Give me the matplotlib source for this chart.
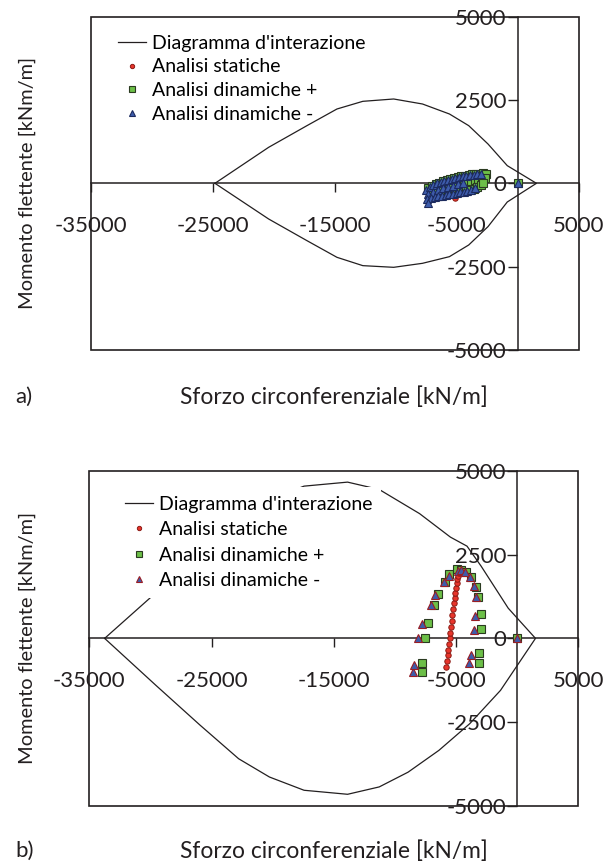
import matplotlib
matplotlib.use("Agg")
import matplotlib.pyplot as plt
from matplotlib.patches import Rectangle

# --- dominio d'interazione, pannello a) ---
dom_a_N = [-24800, -20400, -17260, -14800, -12680, -10150, -7790, -5580, -4000, -2420, -840, 1550,
           -840, -2420, -4000, -5580, -7790, -10150, -12680, -14800, -17260, -20400, -24800]
dom_a_M = [0, 1080, 1730, 2230, 2460, 2530, 2380, 2080, 1730, 1180, 530, 0,
           -560, -1300, -1850, -2200, -2400, -2520, -2470, -2220, -1720, -1070, 0]

# --- dominio d'interazione, pannello b) ---
dom_b_N = [-33740, -29550, -25930, -22780, -20260, -17430, -13870, -11280, -7980, -5460, -4100, -2940, -730, 1500,
           -1360, -3880, -6400, -8920, -11280, -13870, -17430, -20260, -22780, -25930, -29550, -33740]
dom_b_M = [0, 1360, 2590, 3590, 4140, 4540, 4660, 4440, 3720, 3020, 2750, 2150, 900, 0,
           -1550, -2545, -3340, -3990, -4430, -4650, -4530, -4135, -3590, -2590, -1400, 0]

# --- analisi statiche ---
stat_a_N = [-5120, -5050, -4980, -4900, -4820, -4740, -4660]
stat_a_M = [-440, -340, -240, -140, -40, 60, 150]

stat_b_N = [-5850, -5750, -5680, -5620, -5570, -5520, -5470, -5420, -5360, -5300, -5240,
            -5180, -5120, -5060, -5000, -4940, -4880, -4820, -4760, -4700, -4650]
stat_b_M = [-850, -680, -510, -340, -170, 0, 170, 340, 520, 700, 870,
            1040, 1200, 1360, 1500, 1640, 1760, 1870, 1960, 2030, 2080]

# --- analisi dinamiche + ---
dynp_a_N = [-7300, -7000, -6700, -6400, -6100, -5800, -5500, -5200, -4900, -4600, -4300, -4000,
            -3700, -3400, -3100, -2800, -2550,
            -7100, -6800, -6500, -6200, -5900, -5600, -5300, -5000, -4700, -4400, -4100,
            -3800, -3500, -3200, -2900, -2650,
            -7200, -6900, -6600, -6300, -6000, -5700, -5400, -5100, -4800, -4500, -4200,
            -3900, -3600, -3300, -3000, -2800, 0]
dynp_a_M = [-150, -80, -30, 20, 60, 100, 130, 160, 190, 210, 230, 250,
            270, 280, 290, 300, 290,
            -290, -240, -200, -160, -130, -100, -70, -40, -10, 20, 50,
            70, 100, 120, 140, 150,
            -420, -400, -380, -360, -340, -320, -300, -280, -260, -240, -220,
            -190, -160, -110, -60, 10, 0]

dynp_b_N = [-7750, -7750, -7500, -7270, -6770, -6480, -5930, -5540, -4950, -4570, -4160,
            -3750, -3340, -3210, -2930, -2930, -3130, -3130, 0]
dynp_b_M = [-990, -730, 0, 450, 1010, 1320, 1690, 1920, 2060, 2050, 1970,
            1820, 1540, 1240, 730, 280, -430, -720, 0]

# --- analisi dinamiche - ---
dynm_a_N = [-7500, -7200, -6900, -6600, -6300, -6000, -5700, -5400, -5100, -4800, -4500, -4200,
            -3900, -3600, -3300, -3000,
            -7300, -6900, -6500, -6100, -5700, -5300, -4900, -4500,
            -7400, -7100, -6800, -6500, -6200, -5900, -5600, -5300, -5000, -4700, -4400,
            -4100, -3800, -3500, -7300, 0]
dynm_a_M = [-200, -120, -60, 0, 40, 80, 110, 140, 170, 190, 210, 230,
            250, 260, 270, 270,
            -330, -260, -200, -150, -110, -70, -30, 10,
            -480, -440, -410, -390, -370, -350, -330, -310, -290, -270, -250,
            -220, -190, -140, -580, 0]

dynm_b_N = [-8540, -8400, -8070, -7800, -7030, -6680, -6020, -5590, -4850, -4600, -4250,
            -3890, -3570, -3400, -3480, -3570, -3750, -3950, 0]
dynm_b_M = [-1010, -790, 0, 430, 1000, 1290, 1670, 1850, 2000, 2040, 1970,
            1820, 1550, 1220, 680, 260, -500, -730, 0]

x_ticks = [-35000, -25000, -15000, -5000, 5000]
y_ticks = [-5000, -2500, 0, 2500, 5000]

plt.rcParams['font.family'] = ['Lato', 'DejaVu Sans']

INK = '#231f20'
RED = '#e8352b'
GREEN = '#6cbf48'
BLUE = '#3d5cab'


def draw_panel(fig, rect, dom, stat, dynp, dynm, tri_edge, leg_anchor, leg_spacing, leg_pad, leg_bg):
    ax = fig.add_axes(rect)
    ax.set_xlim(-35000, 5000)
    ax.set_ylim(-5000, 5000)

    # assi passanti per l'origine + cornice
    for s in ['top', 'right']:
        ax.spines[s].set_visible(False)
    ax.spines['left'].set_position(('data', 0))
    ax.spines['bottom'].set_position(('data', 0))
    for s in ['left', 'bottom']:
        ax.spines[s].set_linewidth(1.1)
        ax.spines[s].set_color(INK)
    ax.add_patch(Rectangle((0, 0), 1, 1, transform=ax.transAxes, fill=False,
                           lw=1.2, ec=INK, clip_on=False, zorder=5))

    ax.set_xticks(x_ticks)
    ax.set_xticklabels([str(v) for v in x_ticks])
    ax.set_yticks(y_ticks)
    ax.set_yticklabels([str(v) for v in y_ticks])
    ax.tick_params(axis='x', direction='out', length=6.5, width=1.0, pad=17,
                   labelsize=16, colors=INK)
    ax.tick_params(axis='y', direction='out', length=7, width=1.0, pad=1,
                   labelsize=16, colors=INK)

    ax.plot(dom[0], dom[1], color=INK, lw=0.9, label="Diagramma d'interazione", zorder=2)
    ax.plot(stat[0], stat[1], ls='none', marker='o', ms=3.9, mfc=RED, mec='#8a1a14',
            mew=0.7, label='Analisi statiche', zorder=3)
    ax.plot(dynp[0], dynp[1], ls='none', marker='s', ms=5.2, mfc=GREEN, mec='#2a3a20',
            mew=0.8, label='Analisi dinamiche +', zorder=3)
    ax.plot(dynm[0], dynm[1], ls='none', marker='^', ms=5.4, mfc=BLUE, mec=tri_edge,
            mew=0.8, label='Analisi dinamiche -', zorder=4)

    leg = ax.legend(loc='upper left', bbox_to_anchor=leg_anchor, bbox_transform=fig.transFigure,
                    fontsize=14, numpoints=1, markerscale=0.8, handlelength=1.45,
                    handletextpad=0.28, labelspacing=leg_spacing, borderpad=leg_pad,
                    borderaxespad=0, frameon=leg_bg, fancybox=False, framealpha=1)
    leg.get_frame().set_edgecolor('none')
    leg.get_frame().set_facecolor('white')
    leg.set_zorder(6)

    cy = rect[1] + rect[3] / 2
    fig.text(27 / 603, cy, 'Momento flettente [kNm/m]', rotation=90, ha='center', va='center',
             fontsize=14.4, color=INK)
    return ax


fig = plt.figure(figsize=(6.03, 8.68), dpi=100)

draw_panel(fig, [0.1501, 0.5968, 0.8093, 0.384],
           (dom_a_N, dom_a_M), (stat_a_N, stat_a_M), (dynp_a_N, dynp_a_M), (dynm_a_N, dynm_a_M),
           '#1c2a5e', (114 / 603, 1 - 31 / 868), 0.34, 0.2, False)
draw_panel(fig, [0.1480, 0.0714, 0.8110, 0.3863],
           (dom_b_N, dom_b_M), (stat_b_N, stat_b_M), (dynp_b_N, dynp_b_M), (dynm_b_N, dynm_b_M),
           '#9a1d24', (116.5 / 603, 1 - 487 / 868), 0.44, 0.44, True)

for label, ypix in [('a)', 397), ('b)', 851)]:
    fig.text(15 / 603, 1 - ypix / 868, label, fontsize=16, va='center', color=INK)
    fig.text(334 / 603, 1 - ypix / 868, 'Sforzo circonferenziale [kN/m]', fontsize=16.4,
             ha='center', va='center', color=INK)

fig.savefig('out.png', dpi=100)
